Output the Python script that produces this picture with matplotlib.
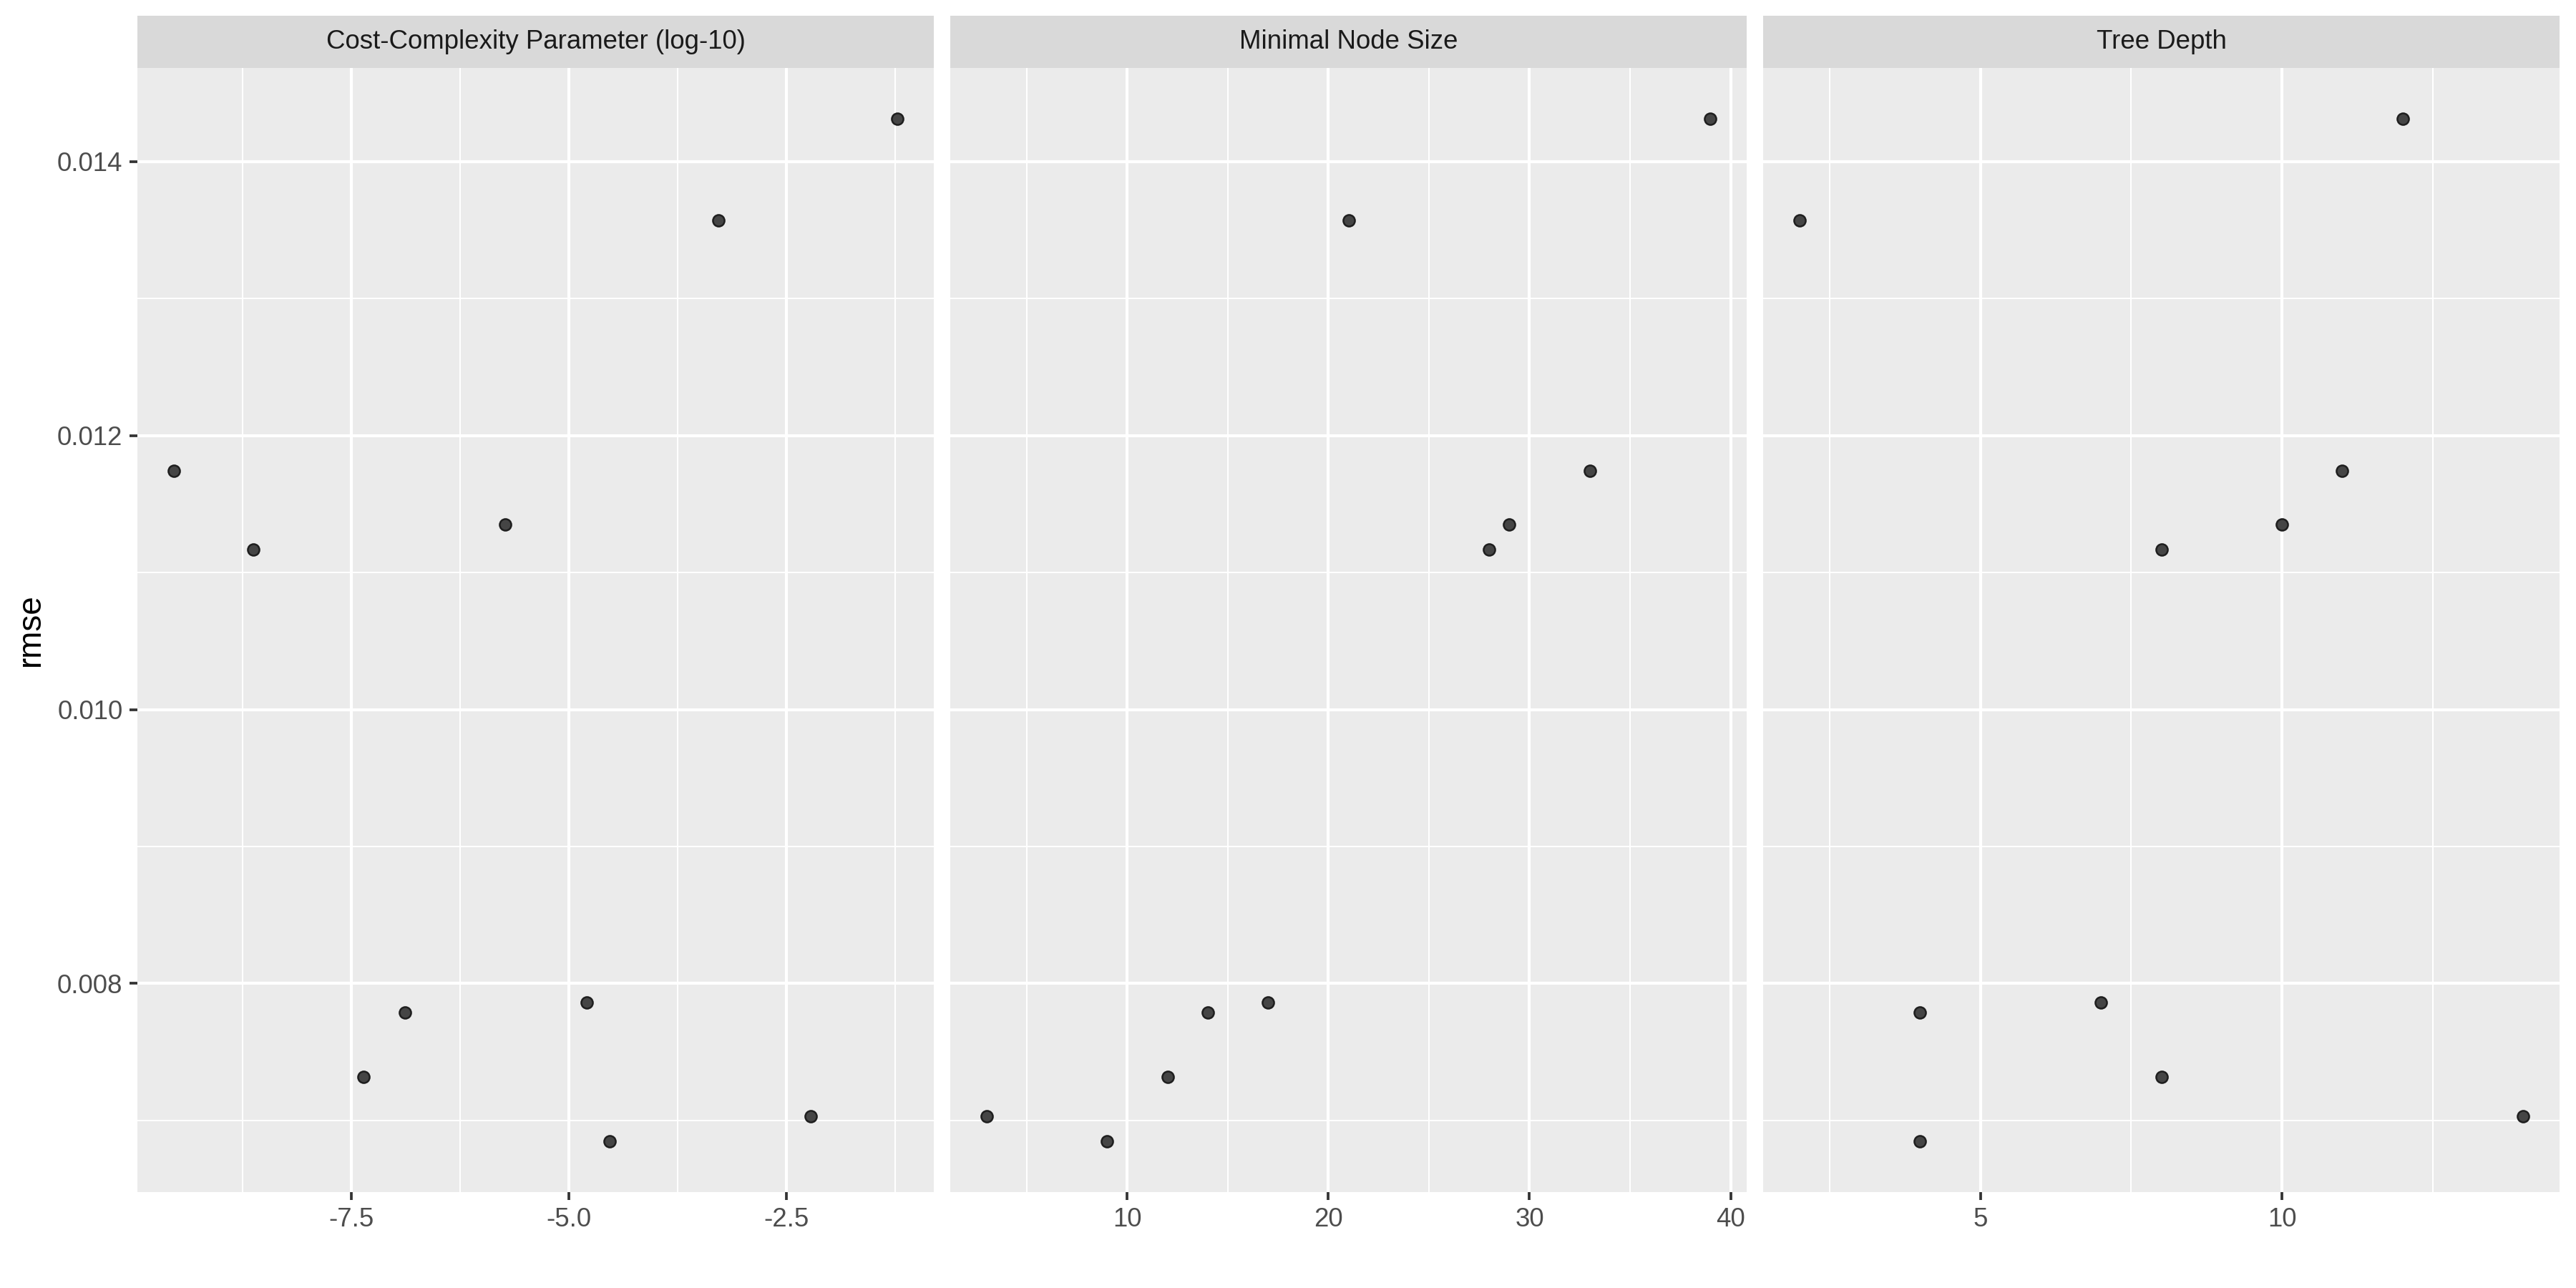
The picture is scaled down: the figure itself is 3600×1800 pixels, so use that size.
import matplotlib
matplotlib.use('Agg')
import matplotlib.pyplot as plt
from matplotlib.ticker import MultipleLocator, FormatStrFormatter

plt.rcParams['font.family'] = ['Liberation Sans', 'DejaVu Sans']
plt.rcParams['axes.unicode_minus'] = False

# tuning results, one entry per candidate model
cost_complexity = [-9.54, -8.62, -7.36, -6.88, -5.73, -4.79, -4.53, -3.28, -2.22, -1.22]
min_n = [33, 28, 12, 14, 29, 17, 9, 21, 3, 39]
tree_depth = [11, 8, 8, 4, 10, 7, 4, 2, 14, 12]
rmse = [0.01174, 0.01117, 0.00732, 0.00779, 0.01135, 0.00786, 0.00685, 0.01357, 0.00703, 0.01431]

panel_titles = ['Cost-Complexity Parameter (log-10)', 'Minimal Node Size', 'Tree Depth']
panel_x = [cost_complexity, min_n, tree_depth]
major_step = [2.5, 10, 5]
minor_step = [1.25, 5, 2.5]
x_fmt = ['%.1f', '%d', '%d']

W, H = 3600, 1800
fig = plt.figure(figsize=(12, 6), dpi=300)

lefts = [192, 1328, 2464]
pw = 1113
top_px, bot_px = 95, 1666
strip_top = 22

axes = []
for i in range(3):
    ax = fig.add_axes([lefts[i] / W, 1 - bot_px / H, pw / W, (bot_px - top_px) / H],
                      sharey=axes[0] if axes else None)
    axes.append(ax)
    ax.set_facecolor('#EBEBEB')
    for s in ax.spines.values():
        s.set_visible(False)
    ax.set_axisbelow(True)
    ax.scatter(panel_x[i], rmse, s=15, facecolor='#454545', edgecolor='#1E1E1E',
               linewidths=0.6, zorder=3)
    ax.margins(x=0.05, y=0.05)
    ax.xaxis.set_major_locator(MultipleLocator(major_step[i]))
    ax.xaxis.set_minor_locator(MultipleLocator(minor_step[i]))
    ax.xaxis.set_major_formatter(FormatStrFormatter(x_fmt[i]))
    ax.yaxis.set_major_locator(MultipleLocator(0.002))
    ax.yaxis.set_minor_locator(MultipleLocator(0.001))
    ax.yaxis.set_major_formatter(FormatStrFormatter('%.3f'))
    ax.grid(which='major', color='white', linewidth=1.0)
    ax.grid(which='minor', color='white', linewidth=0.5)
    ax.tick_params(which='major', length=2.75, width=0.9, color='#333333',
                   labelsize=8.8, labelcolor='#4D4D4D', pad=2.2)
    ax.tick_params(which='minor', length=0)
    if i > 0:
        ax.tick_params(axis='y', which='both', left=False, labelleft=False)

    # facet strip
    sax = fig.add_axes([lefts[i] / W, 1 - top_px / H, pw / W, (top_px - strip_top) / H])
    sax.set_facecolor('#D9D9D9')
    for s in sax.spines.values():
        s.set_visible(False)
    sax.set_xticks([])
    sax.set_yticks([])
    sax.text(0.5, 0.5, panel_titles[i], ha='center', va='center',
             fontsize=8.8, color='#1A1A1A', transform=sax.transAxes)

for ax in axes:
    ax.set_xlim(ax.get_xlim())

fig.text(43 / W, 1 - ((top_px + bot_px) / 2) / H, 'rmse', rotation=90,
         ha='center', va='center', fontsize=11, color='black')

plt.savefig('out.png', dpi=300, facecolor='white')
